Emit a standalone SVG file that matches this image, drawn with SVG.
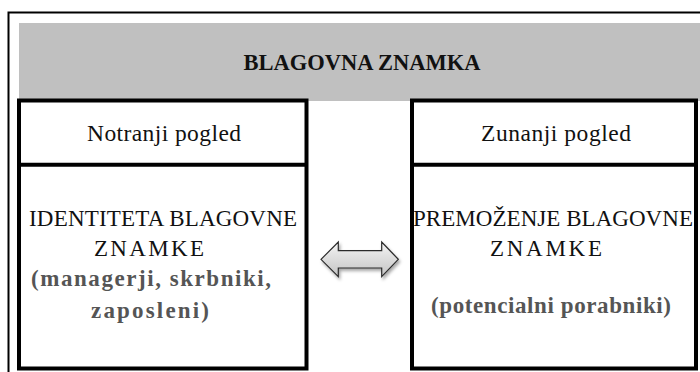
<svg xmlns="http://www.w3.org/2000/svg" width="700" height="372" viewBox="0 0 700 372">
<style>
.frame{fill:none;stroke:#000;stroke-width:2}
.box{fill:#fff;stroke:#000;stroke-width:4}
.div{stroke:#000;stroke-width:4}
.t{font-family:"Liberation Serif","Times New Roman",serif;fill:#111;text-anchor:middle}
.title{font-size:22.5px;font-weight:bold}
.reg{font-size:23.5px}
.cap{font-size:23px}
.sub{font-size:23px;font-weight:bold;fill:#555}
</style>
<defs>
<linearGradient id="ag" x1="0" y1="0" x2="0" y2="1">
<stop offset="0" stop-color="#f4f4f4"/>
<stop offset="1" stop-color="#c4c4c4"/>
</linearGradient>
<filter id="sh" x="-20%" y="-30%" width="140%" height="170%">
<feDropShadow dx="1.5" dy="2.5" stdDeviation="1.5" flood-color="#000" flood-opacity="0.35"/>
</filter>
</defs>
<rect x="0" y="0" width="700" height="372" fill="#fff"/>
<g id="frame">
<path class="frame" d="M8.5,372 V12.5 H700"/>
</g>
<g id="header">
<rect x="19" y="23" width="681" height="78" fill="#c0c0c0"/>
<text class="t title" x="362" y="70">BLAGOVNA ZNAMKA</text>
</g>
<g id="left">
<rect class="box" x="19" y="100.5" width="287.5" height="268"/>
<line class="div" x1="19" y1="164.7" x2="306.5" y2="164.7"/>
<text class="t reg" x="164" y="141" textLength="154" lengthAdjust="spacing">Notranji pogled</text>
<text class="t cap" x="163" y="225.5" textLength="268" lengthAdjust="spacing">IDENTITETA BLAGOVNE</text>
<text class="t cap" x="149" y="256" textLength="110" lengthAdjust="spacing">ZNAMKE</text>
<text class="t sub" x="151" y="286" textLength="240" lengthAdjust="spacing">(managerji, skrbniki,</text>
<text class="t sub" x="150" y="318" textLength="118" lengthAdjust="spacing">zaposleni)</text>
</g>
<g id="right">
<rect class="box" x="412" y="100.5" width="284" height="268"/>
<line class="div" x1="412" y1="164.7" x2="696" y2="164.7"/>
<text class="t reg" x="556" y="141" textLength="150" lengthAdjust="spacing">Zunanji pogled</text>
<text class="t cap" x="553" y="225.5" textLength="280" lengthAdjust="spacing">PREMOŽENJE BLAGOVNE</text>
<text class="t cap" x="546" y="256" textLength="112" lengthAdjust="spacing">ZNAMKE</text>
<text class="t sub" x="551" y="313" textLength="240" lengthAdjust="spacing">(potencialni porabniki)</text>
</g>
<g id="connectors">
<path d="M321,259.3 L338.3,242 V250.7 H381.7 V242 L398.3,259.3 L381.7,276.6 V268 H338.3 V276.6 Z" fill="url(#ag)" stroke="#2a2a2a" stroke-width="1.2" stroke-linejoin="miter" filter="url(#sh)"/>
</g>
</svg>
